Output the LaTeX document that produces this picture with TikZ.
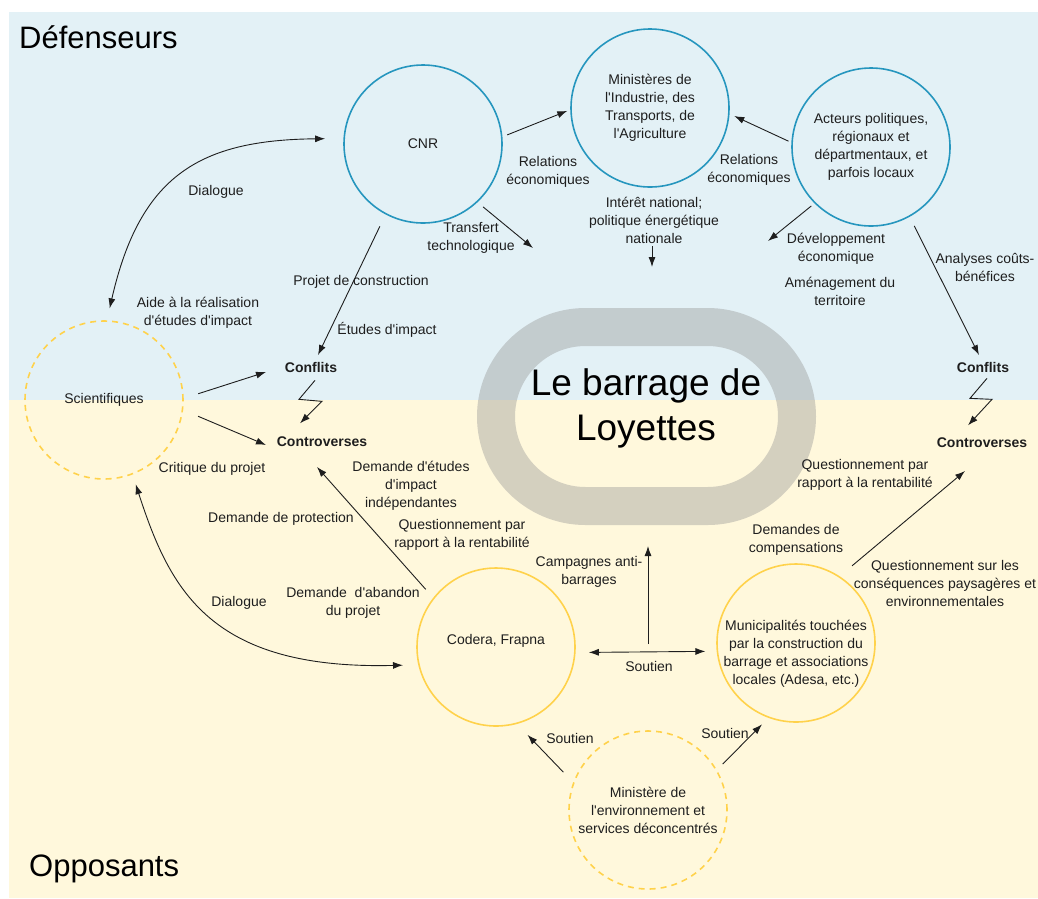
\documentclass[tikz,border=0pt]{standalone}
\usepackage{fontspec}
\setmainfont{Liberation Sans}[Ligatures=TeXOff]
\usetikzlibrary{arrows.meta}
\definecolor{defbg}{RGB}{227,241,246}
\definecolor{oppbg}{RGB}{255,248,220}
\definecolor{defline}{RGB}{38,150,190}
\definecolor{oppline}{RGB}{255,210,75}
\definecolor{ringgray}{RGB}{153,153,153}
\definecolor{ink}{RGB}{30,30,30}

\begin{document}
\begin{tikzpicture}[x=1pt,y=-1pt,
    lbl/.style={font=\fontsize{14}{18}\selectfont, align=center, text=ink, inner sep=1pt},
    kw/.style={lbl, font=\fontsize{14}{18}\selectfont\bfseries},
    actor/.style={lbl, circle, draw=defline, line width=1.6pt, minimum size=158pt, inner sep=0pt, outer sep=0pt},
    opp/.style={actor, draw=oppline},
    oppdash/.style={opp, dash pattern=on 6pt off 5pt},
    arr/.style={-{Latex[length=10pt,width=7pt]}, line width=0.9pt, ink},
    dbl/.style={{Latex[length=10pt,width=7pt]}-{Latex[length=10pt,width=7pt]}, line width=0.9pt, ink}]

    % backgrounds
    \useasboundingbox (0,0) rectangle (1038,898);
    \fill[defbg] (9,12) rectangle (1038,399.5);
    \fill[oppbg] (9,399.5) rectangle (1038,898);
    \node[font=\fontsize{31}{37}\selectfont, anchor=west, inner sep=0pt] (deftitle) at (19,37) {Défenseurs};
    \node[font=\fontsize{31}{37}\selectfont, anchor=west, inner sep=0pt] (opptitle) at (29,869) {Opposants};

    % the dam
    \draw[ringgray, draw opacity=0.42, line width=38pt, rounded corners=89.5pt] (496,327) rectangle (797,506);
    \node[font=\fontsize{37}{45}\selectfont, align=center, inner sep=0pt] (dam) at (646,408) {Le barrage de\\Loyettes};

    % actors
    \node[actor] (cnr) at (423,144) {CNR};
    \node[actor] (min) at (650,108) {Ministères de\\l'Industrie, des\\Transports, de\\l'Agriculture};
    \node[actor] (act) at (871,147) {Acteurs politiques,\\régionaux et\\départmentaux, et\\parfois locaux};
    \node[oppdash] (sci) at (104,400) {Scientifiques};
    \node[opp, label={[lbl, yshift=6pt]center:{Codera, Frapna}}] (cod) at (496,647) {};
    \node[opp, label={[lbl, yshift=-11pt]center:{Municipalités touchées\\par la construction du\\barrage et associations\\locales (Adesa, etc.)}}] (mun) at (796,643) {};
    \node[oppdash] (env) at (648,810) {Ministère de\\l'environnement et\\services déconcentrés};

    % labels
    \node[lbl] (dialtop) at (216,192) {Dialogue};
    \node[lbl] (relcnr) at (548,172) {Relations\\économiques};
    \node[lbl] (relact) at (749,170) {Relations\\économiques};
    \node[lbl] (transfert) at (471,238) {Transfert\\technologique};
    \node[lbl] (interet) at (654,220) {Intérêt national;\\politique énergétique\\nationale};
    \node[lbl] (devel) at (836,249) {Développement\\économique};
    \node[lbl] (amenag) at (840,291) {Aménagement du\\territoire};
    \node[lbl] (couts) at (985,267) {Analyses coûts-\\bénéfices};
    \node[lbl] (projet) at (361,282) {Projet de construction};
    \node[lbl] (aide) at (198,313) {Aide à la réalisation\\d'études d'impact};
    \node[lbl] (etudes) at (387,330) {Études d'impact};
    \node[kw] (conflA) at (311,367) {Conflits};
    \node[kw] (conflB) at (983,367) {Conflits};
    \node[kw] (controA) at (322,442) {Controverses};
    \node[kw] (controB) at (982,443) {Controverses};
    \node[lbl] (critique) at (212,469) {Critique du projet};
    \node[lbl] (demetudes) at (411,486) {Demande d'études\\d'impact\\indépendantes};
    \node[lbl] (protection) at (281,519) {Demande de protection};
    \node[lbl] (rentaA) at (462,535) {Questionnement par\\rapport à la rentabilité};
    \node[lbl] (campagnes) at (589,572) {Campagnes anti-\\barrages};
    \node[lbl] (compens) at (796,540) {Demandes de\\compensations};
    \node[lbl] (rentaB) at (865,475) {Questionnement par\\rapport à la rentabilité};
    \node[lbl] (paysage) at (945,583) {Questionnement sur les\\conséquences paysagères et\\environnementales};
    \node[lbl] (dialbot) at (239,603) {Dialogue};
    \node[lbl] (abandon) at (353,603) {Demande \ d'abandon\\du projet};
    \node[lbl] (soutienA) at (649,666) {Soutien};
    \node[lbl] (soutienB) at (570,738) {Soutien};
    \node[lbl] (soutienC) at (725,733) {Soutien};

    % free arrow ends
    \coordinate (tiptransf) at (533,248);
    \coordinate (tipnat) at (652,267);
    \coordinate (tipdev) at (768,241);
    \coordinate (tipconfB) at (979,355);
    \coordinate (tipconfA) at (318,355);
    \coordinate (tipconfsci) at (266,372);
    \coordinate (tipcontrosci) at (266,445);
    \coordinate (tipcontroA) at (317,467);
    \coordinate (tipcontroB) at (965,471);
    \coordinate (campfoot) at (648,644);
    \coordinate (camptip) at (648,546);

    % defenders
    \draw[arr, shorten <=6pt, shorten >=4pt] (cnr.5) -- (min.181);
    \draw[arr, shorten <=4pt, shorten >=6pt] (act.177) -- (min.-4);
    \draw[arr, shorten <=8pt] (cnr.-47) -- (tiptransf);
    \draw[arr, shorten <=2pt] (interet.south -| tipnat) -- (tipnat);
    \draw[arr, shorten <=5pt] (act.-135) -- (tipdev);
    \draw[arr, shorten <=11pt] (act.-61) -- (tipconfB);
    \draw[arr, shorten <=14pt] (cnr.-118) -- (tipconfA);
    \draw[dbl, shorten <=13pt, shorten >=19pt] (sci.88) .. controls (140,175) and (200,140) .. (cnr.176);
    \draw[arr, shorten <=16pt] (sci.1) -- (tipconfsci);
    \draw[arr, shorten <=17pt] (sci.-7) -- (tipcontrosci);
    \draw[arr] ([shift={(4,7)}]conflA.south) -- ++(-16,19) -- ++(23,2) -- ++(-22,22);
    \draw[arr] ([shift={(4,5)}]conflB.south) -- ++(-17,20) -- ++(22,1) -- ++(-24,26);

    % opponents
    \draw[arr, shorten <=12pt] (cod.142) -- (tipcontroA);
    \draw[dbl, shorten <=11pt, shorten >=16pt] (sci.-69) .. controls (170,590) and (210,670) .. (cod.-167);
    \draw[dbl, shorten <=14pt, shorten >=12pt] (cod.-4) -- (mun.186);
    \draw[arr] (campfoot) -- (camptip);
    \draw[arr, shorten <=17pt] (mun.57) -- (tipcontroB);
    \draw[arr, shorten <=15pt, shorten >=16pt] (env.160) -- (cod.-75);
    \draw[arr, shorten <=9pt, shorten >=10pt] (env.30) -- (mun.-110);
\end{tikzpicture}
\end{document}
